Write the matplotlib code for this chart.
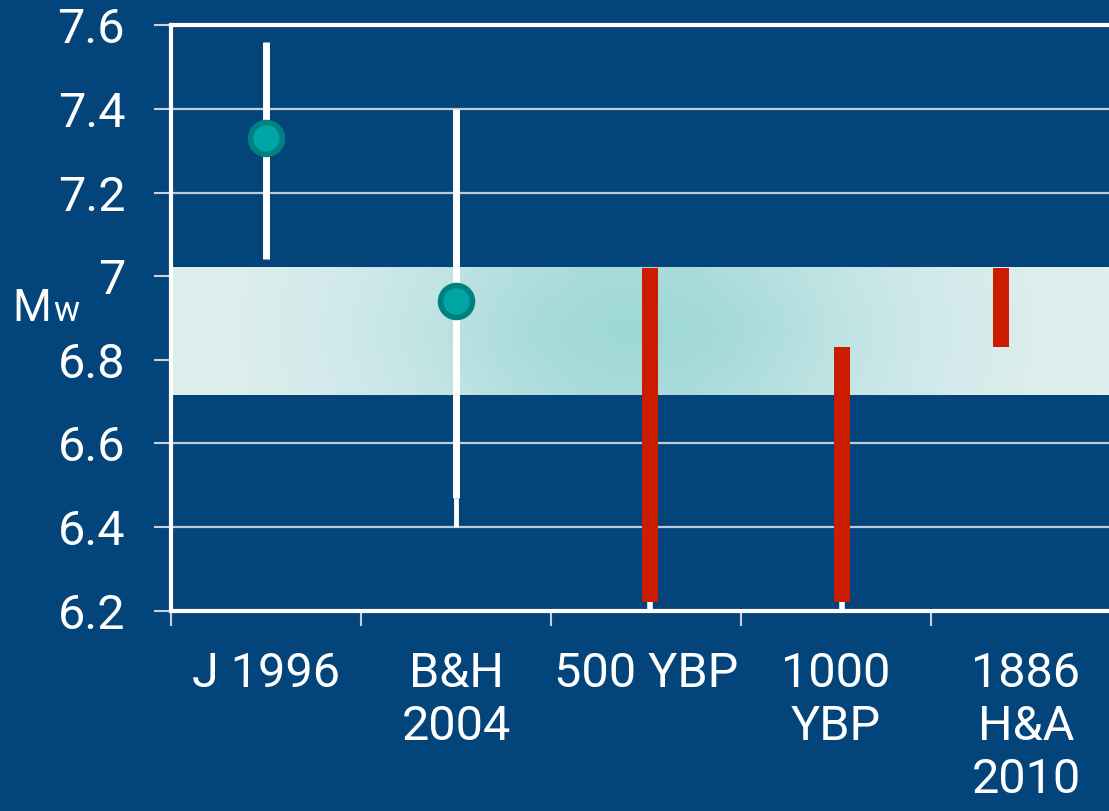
import matplotlib
matplotlib.use("Agg")
import matplotlib.pyplot as plt
import numpy as np
from matplotlib.colors import LinearSegmentedColormap

# categories along the bottom
categories = ["J 1996", "B&H\n2004", "500 YBP", "1000\nYBP", "1886\nH&A\n2010"]

# published estimates: point + range (white bars)
est_x = [0.5, 1.5]
est_mid = [7.33, 6.94]
est_low = [7.04, 6.47]
est_high = [7.56, 7.40]
# thin lower tail of the B&H range
tail_x = [1.5]
tail_low = [6.40]
tail_high = [6.47]

# paleo estimates (red bars)
paleo_x = [2.52, 3.53, 4.37]
paleo_low = [6.22, 6.22, 6.83]
paleo_high = [7.02, 6.83, 7.02]

# shaded preferred range
band_low, band_high = 6.717, 7.022

y_ticks = [6.2, 6.4, 6.6, 6.8, 7.0, 7.2, 7.4, 7.6]
y_ticklabels = ["6.2", "6.4", "6.6", "6.8", "7", "7.2", "7.4", "7.6"]

BG = "#03457b"
plt.rcParams["font.family"] = ["Roboto", "DejaVu Sans"]

W, H = 1109, 811
fig = plt.figure(figsize=(W / 100, H / 100), dpi=100, facecolor=BG)
ax = fig.add_axes([171 / W, 1 - 610.7 / H, 950 / W, (610.7 - 25.3) / H])
ax.set_facecolor(BG)
ax.set_xlim(0, 5)
ax.set_ylim(6.2, 7.6)

# grid lines
for v in y_ticks[1:-1]:
    ax.axhline(v, color="#bccbdb", lw=1.6, zorder=1)

# gradient band
gx = np.linspace(0, 5, 400)
gy = np.linspace(band_low, band_high, 60)
XX, YY = np.meshgrid(gx, gy)
t = np.exp(-((XX - 2.45) ** 2) / (2 * 0.95 ** 2))
t = t * (0.85 + 0.15 * np.exp(-((YY - 6.87) ** 2) / (2 * 0.08 ** 2)))
cmap = LinearSegmentedColormap.from_list("band", ["#e1efef", "#a0d8d8"])
ax.imshow(t, extent=(0, 5, band_low, band_high), origin="lower", aspect="auto",
          cmap=cmap, vmin=0, vmax=1, zorder=2, interpolation="bilinear")

# white ranges and points
ax.vlines(est_x, est_low, est_high, color="white", lw=5, zorder=3)
ax.vlines(tail_x, tail_low, tail_high, color="white", lw=3.5, zorder=3)
ax.plot(est_x, est_mid, "o", ms=23, mfc="#00a6a6", mec="#00807f", mew=4,
        zorder=4, linestyle="none")

# red ranges with small white stubs below
ax.vlines(paleo_x[:2], 6.2, paleo_low[:2], color="white", lw=4, zorder=3)
ax.vlines(paleo_x, paleo_low, paleo_high, color="#cc1c00", lw=11.5, zorder=4)

# spines
for s in ["left", "top", "bottom"]:
    ax.spines[s].set_color("white")
    ax.spines[s].set_linewidth(3)
ax.spines["right"].set_visible(False)

ax.set_yticks(y_ticks)
ax.set_yticklabels(y_ticklabels)
ax.tick_params(axis="y", colors="#c8d2de", labelcolor="white", length=12,
               width=1.5, pad=21, labelsize=35)

ax.set_xticks(range(6))
ax.set_xticklabels([])
ax.tick_params(axis="x", which="major", colors="#c8d2de", length=11, width=1.5)
ax.set_xticks([i + 0.5 for i in range(len(categories))], minor=True)
ax.set_xticklabels(categories, minor=True)
ax.tick_params(axis="x", which="minor", length=0, pad=29, labelsize=35,
               labelcolor="white")
for lbl in ax.get_xticklabels(minor=True):
    lbl.set_linespacing(1.2)

# axis label: M with small w
fig.text(12 / W, 1 - 321 / H, "M", color="white", fontsize=32, va="baseline")
fig.text(53 / W, 1 - 321 / H, "w", color="white", fontsize=25, va="baseline")

fig.savefig("out.png", dpi=100, facecolor=BG)
